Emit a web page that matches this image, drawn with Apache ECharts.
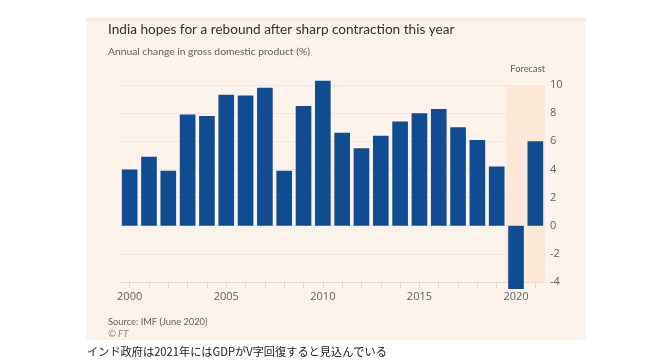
<!DOCTYPE html>
<html>
<head>
<meta charset="utf-8">
<script src="https://cdn.jsdelivr.net/npm/echarts@6/dist/echarts.min.js"></script>
<style>
html,body{margin:0;padding:0;background:#ffffff;}
#chart{width:656px;height:363px;}
</style>
</head>
<body>
<div id="chart"></div>
<script>
const years = ['2000','2001','2002','2003','2004','2005','2006','2007','2008','2009','2010','2011','2012','2013','2014','2015','2016','2017','2018','2019','2020','2021'];
const gdpGrowth = [4.0,4.9,3.9,7.9,7.8,9.3,9.25,9.8,3.9,8.5,10.3,6.6,5.5,6.4,7.4,8.0,8.3,7.0,6.1,4.2,-4.5,6.0];
const forecastYears = ['2020','2021'];
const yMin = -4, yMax = 10, yStep = 2;

const titleText = 'India hopes for a rebound after sharp contraction this year';
const subtitleText = 'Annual change in gross domestic product (%)';
const forecastText = 'Forecast';
const sourceText = 'Source: IMF (June 2020)';
const creditText = '\u00A9 FT';
const captionText = 'インド政府は2021年にはGDPがV字回復すると見込んでいる';

const shadeTop = years.map(y => forecastYears.includes(y) ? yMax : null);
const shadeBottom = years.map(y => forecastYears.includes(y) ? yMin : null);

const chart = echarts.init(document.getElementById('chart'), null, {renderer: 'canvas'});
const font = '"Open Sans", "Noto Sans", sans-serif';
const narrow = 'Lato, "Open Sans", sans-serif';
const grey = '#66605c';

chart.setOption({
  animation: false,
  backgroundColor: '#ffffff',
  graphic: [
    {type: 'rect', z: -10, shape: {x: 86, y: 18, width: 500, height: 322}, style: {fill: '#fdf3ea'}},
    {type: 'rect', z: -9, shape: {x: 86, y: 18, width: 500, height: 3}, style: {fill: '#faeadd'}},
    {type: 'text', x: 108, y: 30, style: {text: titleText, font: '13.6px ' + narrow, fill: '#33302e', verticalAlign: 'middle'}},
    {type: 'text', x: 108, y: 52, style: {text: subtitleText, font: '10.3px ' + narrow, fill: grey, verticalAlign: 'middle'}},
    {type: 'text', x: 545, y: 69, style: {text: forecastText, font: '9.3px ' + narrow, fill: grey, align: 'right', verticalAlign: 'middle'}},
    {type: 'text', x: 108, y: 322, style: {text: sourceText, font: '9.3px ' + narrow, fill: grey, verticalAlign: 'middle'}},
    {type: 'text', x: 108, y: 334, style: {text: creditText, font: 'italic 9.5px ' + narrow, fill: '#8f8882', verticalAlign: 'middle'}},
    {type: 'text', x: 87, y: 352, style: {text: captionText, font: '11.2px "Noto Sans CJK JP", sans-serif', fill: '#222222', verticalAlign: 'middle'}}
  ],
  grid: {left: 120, right: 111, top: 85, bottom: 81, containLabel: false},
  xAxis: [{
    type: 'category',
    data: years,
    position: 'bottom',
    axisLine: {show: true, onZero: false, lineStyle: {color: '#e6dbd0'}},
    axisTick: {show: true, alignWithLabel: true, interval: 0, length: 6, lineStyle: {color: '#e0d5ca'}},
    axisLabel: {interval: 4, color: grey, fontSize: 11, fontFamily: font, margin: 9},
    splitLine: {show: false}
  }, {
    type: 'category',
    data: years,
    show: false,
    position: 'bottom'
  }],
  yAxis: {
    type: 'value',
    position: 'right',
    min: yMin, max: yMax, interval: yStep,
    axisLine: {show: false},
    axisTick: {show: false},
    axisLabel: {color: grey, fontSize: 11, fontFamily: font, margin: 5},
    splitLine: {show: true, lineStyle: {color: '#f3e6da', width: 1}}
  },
  series: [
    {type: 'bar', xAxisIndex: 1, data: shadeTop, stack: 'shade', barCategoryGap: '0%', itemStyle: {color: '#fce8d6'}, silent: true, z: 1},
    {type: 'bar', xAxisIndex: 1, data: shadeBottom, stack: 'shade', barCategoryGap: '0%', itemStyle: {color: '#fce8d6'}, silent: true, z: 1},
    {type: 'bar', xAxisIndex: 0, data: gdpGrowth, barCategoryGap: '19%', clip: false, itemStyle: {color: '#0f4c92'}, z: 3}
  ]
});
</script>
</body>
</html>
